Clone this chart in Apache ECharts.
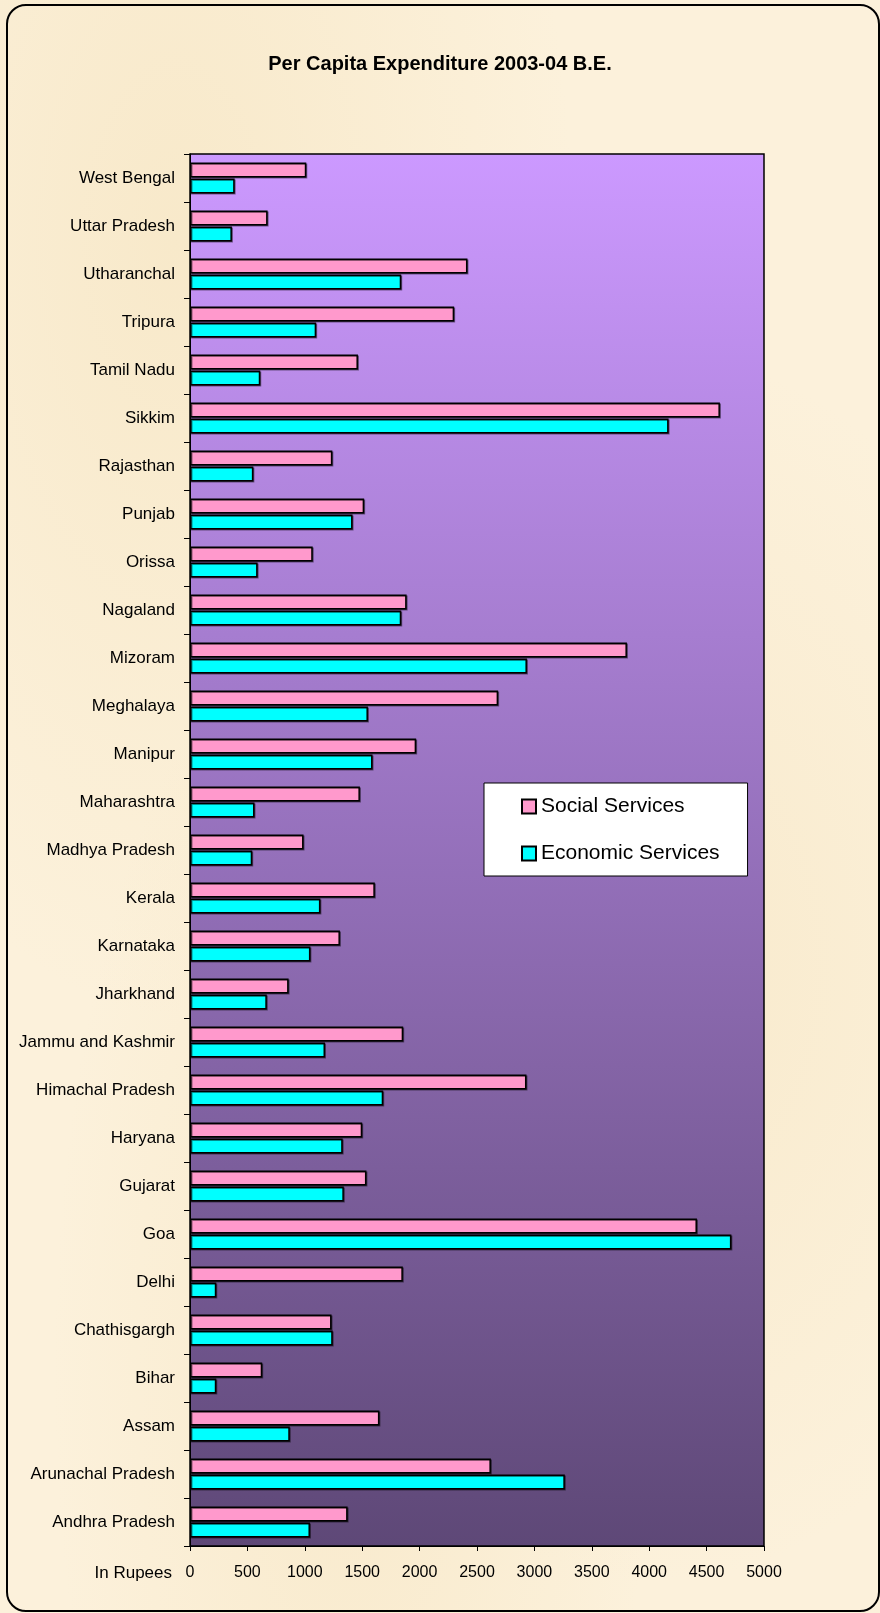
<!DOCTYPE html>
<html>
<head>
<meta charset="utf-8">
<script src="https://cdn.jsdelivr.net/npm/echarts@6/dist/echarts.min.js"></script>
<style>
    html, body { margin: 0; padding: 0; background: #fbf0d9; }
    #page {
        position: relative; width: 880px; height: 1613px; overflow: hidden;
        background:
            radial-gradient(ellipse at 20% 15%, rgba(240,218,170,0.35), transparent 40%),
            radial-gradient(ellipse at 75% 60%, rgba(240,218,170,0.3), transparent 45%),
            radial-gradient(ellipse at 40% 85%, rgba(240,218,170,0.3), transparent 40%),
            #fcf1db;
    }
    #frame {
        position: absolute; left: 6px; top: 4px; width: 874px; height: 1608px;
        border: 2.5px solid #000; border-radius: 20px; box-sizing: border-box;
    }
    #chart { position: absolute; left: 0; top: 0; width: 880px; height: 1613px; }
</style>
</head>
<body>
<div id="page">
    <div id="frame"></div>
    <div id="chart"></div>
</div>
<script>
// states, bottom to top like the original
const states = ['Andhra Pradesh', 'Arunachal Pradesh', 'Assam', 'Bihar', 'Chathisgargh', 'Delhi',
    'Goa', 'Gujarat', 'Haryana', 'Himachal Pradesh', 'Jammu and Kashmir', 'Jharkhand', 'Karnataka',
    'Kerala', 'Madhya Pradesh', 'Maharashtra', 'Manipur', 'Meghalaya', 'Mizoram', 'Nagaland',
    'Orissa', 'Punjab', 'Rajasthan', 'Sikkim', 'Tamil Nadu', 'Tripura', 'Utharanchal',
    'Uttar Pradesh', 'West Bengal']

// per capita, in rupees
const socialServices = [1373, 2621, 1650, 629, 1233, 1854, 4416, 1537, 1500, 2931, 1857, 859, 1306,
    1610, 989, 1480, 1970, 2684, 3806, 1887, 1069, 1517, 1240, 4616, 1463, 2301, 2417, 676, 1013]
const economicServices = [1045, 3265, 869, 229, 1243, 229, 4716, 1340, 1330, 1683, 1176, 669, 1049,
    1136, 542, 562, 1590, 1550, 2935, 1840, 589, 1416, 552, 4169, 612, 1099, 1840, 365, 389]

const FONT = 'Liberation Sans, Arial, sans-serif'

const barStyle = color => ({
    color: color,
    borderColor: '#000',
    borderWidth: 1.5,
    shadowColor: 'rgba(0,0,0,0.45)',
    shadowOffsetX: 1,
    shadowOffsetY: 1
})

const chart = echarts.init(document.getElementById('chart'), null, { renderer: 'canvas' })

chart.setOption({
    animation: false,
    textStyle: { fontFamily: FONT, color: '#000' },
    title: {
        text: 'Per Capita Expenditure 2003-04 B.E.',
        left: 'center',
        top: 54,
        padding: 0,
        textStyle: { fontFamily: FONT, fontSize: 20, fontWeight: 'bold', color: '#000' }
    },
    legend: {
        data: ['Social Services', 'Economic Services'],
        orient: 'vertical',
        left: 484,
        top: 783,
        padding: [13, 28, 12, 37],
        itemGap: 26,
        itemWidth: 14,
        itemHeight: 14,
        icon: 'rect',
        backgroundColor: '#fff',
        borderColor: '#000',
        borderWidth: 1,
        textStyle: { fontFamily: FONT, fontSize: 21, color: '#000' }
    },
    grid: {
        left: 190,
        right: 116,
        top: 154,
        bottom: 67,
        show: true,
        borderColor: '#000',
        borderWidth: 1.5,
        backgroundColor: {
            type: 'linear', x: 0, y: 0, x2: 0, y2: 1,
            colorStops: [
                { offset: 0, color: '#cc99ff' },
                { offset: 1, color: '#5e4877' }
            ]
        }
    },
    xAxis: {
        type: 'value',
        min: 0,
        max: 5000,
        interval: 500,
        name: 'In Rupees',
        nameLocation: 'start',
        nameGap: 18,
        nameTextStyle: { fontFamily: FONT, fontSize: 17, color: '#000', verticalAlign: 'top', padding: [19, 0, 0, 0] },
        axisLine: { show: true, lineStyle: { color: '#000', width: 1 } },
        axisTick: { show: true, length: 5, lineStyle: { color: '#000' } },
        axisLabel: { fontFamily: FONT, fontSize: 16, color: '#000', margin: 19, formatter: v => String(v) },
        splitLine: { show: false }
    },
    yAxis: {
        type: 'category',
        data: states,
        axisLine: { show: true, lineStyle: { color: '#000', width: 1 } },
        axisTick: { show: true, length: 6, lineStyle: { color: '#000' } },
        axisLabel: { fontFamily: FONT, fontSize: 17, color: '#000', margin: 15, interval: 0 },
        splitLine: { show: false }
    },
    series: [
        {
            name: 'Social Services',
            type: 'bar',
            data: socialServices,
            barWidth: 15,
            barGap: '8%',
            itemStyle: barStyle('#ff99cc')
        },
        {
            name: 'Economic Services',
            type: 'bar',
            data: economicServices,
            barWidth: 15,
            barGap: '8%',
            itemStyle: barStyle('#00ffff')
        }
    ]
})
</script>
</body>
</html>
